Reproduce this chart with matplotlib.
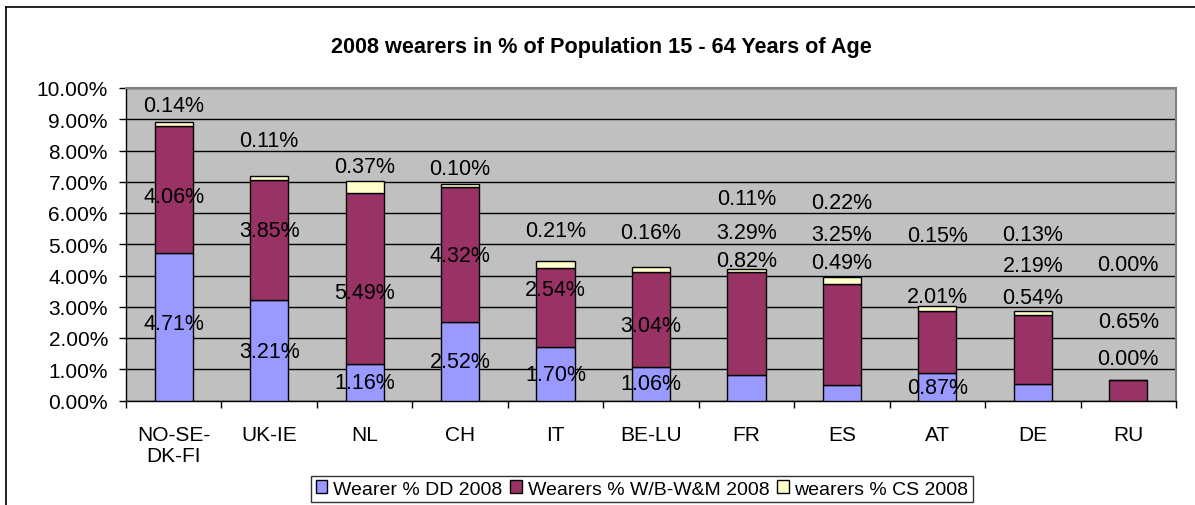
import matplotlib.pyplot as plt
import numpy as np
from matplotlib.lines import Line2D
from matplotlib.patches import Patch
from matplotlib.ticker import FormatStrFormatter, MultipleLocator

plt.rcParams["font.family"] = ["Liberation Sans", "DejaVu Sans"]

regions = ["NO-SE-\nDK-FI", "UK-IE", "NL", "CH", "IT", "BE-LU", "FR", "ES", "AT", "DE", "RU"]
wearer_dd = [4.71, 3.21, 1.16, 2.52, 1.70, 1.06, 0.82, 0.49, 0.87, 0.54, 0.00]
wearers_wb = [4.06, 3.85, 5.49, 4.32, 2.54, 3.04, 3.29, 3.25, 2.01, 2.19, 0.65]
wearers_cs = [0.14, 0.11, 0.37, 0.10, 0.21, 0.16, 0.11, 0.22, 0.15, 0.13, 0.00]

# heights (in %) where the sheet put each data label
label_y_dd = [2.46, 1.58, 0.59, 1.26, 0.83, 0.54, 4.49, 4.43, 0.41, 3.29, 1.34]
label_y_wb = [6.53, 5.43, 3.45, 4.63, 3.56, 2.40, 5.37, 5.32, 3.32, 4.31, 2.54]
label_y_cs = [9.45, 8.31, 7.48, 7.43, 5.43, 5.37, 6.47, 6.34, 5.27, 5.32, 4.36]

series_names = ["Wearer % DD 2008", "Wearers % W/B-W&M 2008", "wearers % CS 2008"]
colors = ["#9999FF", "#993366", "#FFFFCC"]

fig = plt.figure(figsize=(11.95, 5.06), dpi=100)
ax = fig.add_axes([126 / 1195, 1 - 401.5 / 506, 1050 / 1195, 312.5 / 506])

x = np.arange(len(regions))
dd = np.array(wearer_dd)
wb = np.array(wearers_wb)
cs = np.array(wearers_cs)

ax.bar(x, dd, width=0.4, color=colors[0], edgecolor="black", linewidth=1, zorder=3)
ax.bar(x, wb, width=0.4, bottom=dd, color=colors[1], edgecolor="black", linewidth=1, zorder=3)
ax.bar(x, cs, width=0.4, bottom=dd + wb, color=colors[2], edgecolor="black", linewidth=1, zorder=3)

for vals, ys in [(wearer_dd, label_y_dd), (wearers_wb, label_y_wb), (wearers_cs, label_y_cs)]:
    for i, (v, y) in enumerate(zip(vals, ys)):
        ax.text(i, y, "%.2f%%" % v, ha="center", va="center", fontsize=15.5, zorder=4)

ax.set_facecolor("#C0C0C0")
ax.set_xlim(-0.5, len(regions) - 0.5)
ax.set_ylim(0, 10)
ax.yaxis.set_major_locator(MultipleLocator(1))
ax.yaxis.set_major_formatter(FormatStrFormatter("%.2f%%"))
ax.grid(axis="y", color="black", linewidth=1, zorder=1)
ax.set_axisbelow(True)

ax.set_xticks(x)
ax.set_xticklabels(regions, fontsize=15, linespacing=1.1)
ax.set_xticks(np.arange(-0.5, len(regions), 1), minor=True)
ax.tick_params(axis="x", which="major", length=0, pad=18)
ax.tick_params(axis="x", which="minor", length=5, width=1, direction="out")
ax.tick_params(axis="y", length=5, width=1, direction="out", labelsize=15, pad=8)

for side in ["left", "bottom"]:
    ax.spines[side].set_color("black")
    ax.spines[side].set_linewidth(1)
for side in ["top", "right"]:
    ax.spines[side].set_color("#808080")
    ax.spines[side].set_linewidth(1.5)

fig.text(0.503, 1 - 47 / 506, "2008 wearers in % of Population 15 - 64 Years of Age",
         ha="center", va="center", fontsize=15.6, fontweight="bold")

handles = [Patch(facecolor=c, edgecolor="black", linewidth=1) for c in colors]
leg = fig.legend(handles, series_names, loc="center", bbox_to_anchor=(642 / 1195, 1 - 490 / 506),
                 ncol=3, fontsize=14, frameon=True, fancybox=False, handlelength=0.6,
                 handleheight=0.6, handletextpad=0.3, columnspacing=0.4, borderpad=0.25,
                 borderaxespad=0)
leg.get_frame().set_edgecolor("black")
leg.get_frame().set_linewidth(1)

# outer chart frame (top and left edges show in the crop)
fig.add_artist(Line2D([6.5 / 1195, 1], [1 - 8 / 506, 1 - 8 / 506], color="black", linewidth=1.2))
fig.add_artist(Line2D([6.5 / 1195, 6.5 / 1195], [0, 1 - 8 / 506], color="black", linewidth=1.2))

fig.savefig("out.png", dpi=100)
